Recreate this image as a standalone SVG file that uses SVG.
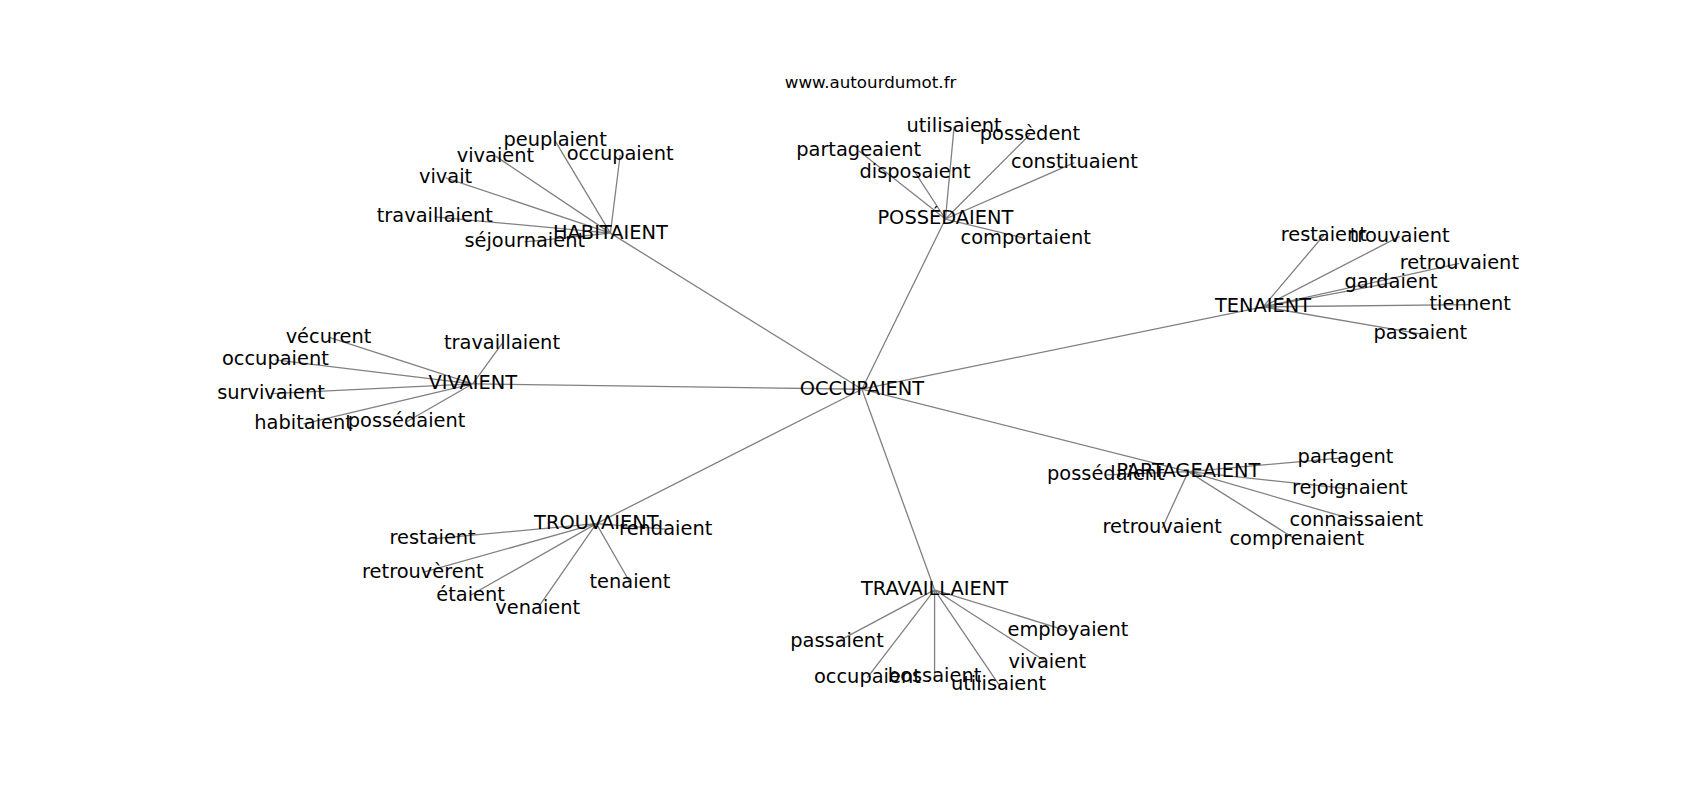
<svg xmlns="http://www.w3.org/2000/svg" width="1700" height="800" viewBox="0 0 1700 800">
<style>
.e{stroke:#808080;stroke-width:1.2;fill:none}
text{font-family:"DejaVu Sans",sans-serif;font-size:17.9px;fill:#000;text-anchor:middle}
.t{font-size:15.4px}
</style>
<rect width="1700" height="800" fill="#fff"/>
<g transform="scale(1.0842)">
<text class="t" x="803" y="81">www.autourdumot.fr</text>
<g id="edges">
<path class="e" d="M795 359L563 215M795 359L872 202M795 359L1165 283M795 359L436 354M795 359L1096 435M795 359L550 483M795 359L862 544"/>
<path class="e" d="M563 215L512 130M563 215L457 144M563 215L572 143M563 215L411 164M563 215L401 200M563 215L484 223"/>
<path class="e" d="M872 202L880 117M872 202L950 124M872 202L792 139M872 202L844 159M872 202L991 150M872 202L946 220"/>
<path class="e" d="M1165 283L1221 217M1165 283L1291 218M1165 283L1346 243M1165 283L1283 261M1165 283L1356 281M1165 283L1310 308"/>
<path class="e" d="M436 354L303 311M436 354L254 332M436 354L250 363M436 354L280 391M436 354L375 389M436 354L463 317"/>
<path class="e" d="M1096 435L1241 422M1096 435L1020 438M1096 435L1245 451M1096 435L1251 480M1096 435L1196 498M1096 435L1072 487"/>
<path class="e" d="M550 483L399 497M550 483L390 528M550 483L434 549M550 483L496 561M550 483L581 537M550 483L614 488"/>
<path class="e" d="M862 544L772 592M862 544L985 582M862 544L800 625M862 544L862 624M862 544L921 631M862 544L966 611"/>
</g>
<g id="n-occupaient"><text x="795" y="364">OCCUPAIENT</text></g>
<g id="n-habitaient"><text x="563" y="220">HABITAIENT</text></g>
<g id="n-habitaient-peuplaient"><text x="512" y="135">peuplaient</text></g>
<g id="n-habitaient-vivaient"><text x="457" y="149">vivaient</text></g>
<g id="n-habitaient-occupaient"><text x="572" y="148">occupaient</text></g>
<g id="n-habitaient-vivait"><text x="411" y="169">vivait</text></g>
<g id="n-habitaient-travaillaient"><text x="401" y="205">travaillaient</text></g>
<g id="n-habitaient-sejournaient"><text x="484" y="228">séjournaient</text></g>
<g id="n-possedaient"><text x="872" y="207">POSSÉDAIENT</text></g>
<g id="n-possedaient-utilisaient"><text x="880" y="122">utilisaient</text></g>
<g id="n-possedaient-possedent"><text x="950" y="129">possèdent</text></g>
<g id="n-possedaient-partageaient"><text x="792" y="144">partageaient</text></g>
<g id="n-possedaient-disposaient"><text x="844" y="164">disposaient</text></g>
<g id="n-possedaient-constituaient"><text x="991" y="155">constituaient</text></g>
<g id="n-possedaient-comportaient"><text x="946" y="225">comportaient</text></g>
<g id="n-tenaient"><text x="1165" y="288">TENAIENT</text></g>
<g id="n-tenaient-restaient"><text x="1221" y="222">restaient</text></g>
<g id="n-tenaient-trouvaient"><text x="1291" y="223">trouvaient</text></g>
<g id="n-tenaient-retrouvaient"><text x="1346" y="248">retrouvaient</text></g>
<g id="n-tenaient-gardaient"><text x="1283" y="266">gardaient</text></g>
<g id="n-tenaient-tiennent"><text x="1356" y="286">tiennent</text></g>
<g id="n-tenaient-passaient"><text x="1310" y="313">passaient</text></g>
<g id="n-vivaient"><text x="436" y="359">VIVAIENT</text></g>
<g id="n-vivaient-vecurent"><text x="303" y="316">vécurent</text></g>
<g id="n-vivaient-occupaient"><text x="254" y="337">occupaient</text></g>
<g id="n-vivaient-survivaient"><text x="250" y="368">survivaient</text></g>
<g id="n-vivaient-habitaient"><text x="280" y="396">habitaient</text></g>
<g id="n-vivaient-possedaient"><text x="375" y="394">possédaient</text></g>
<g id="n-vivaient-travaillaient"><text x="463" y="322">travaillaient</text></g>
<g id="n-partageaient"><text x="1096" y="440">PARTAGEAIENT</text></g>
<g id="n-partageaient-partagent"><text x="1241" y="427">partagent</text></g>
<g id="n-partageaient-possedaient"><text x="1020" y="443">possédaient</text></g>
<g id="n-partageaient-rejoignaient"><text x="1245" y="456">rejoignaient</text></g>
<g id="n-partageaient-connaissaient"><text x="1251" y="485">connaissaient</text></g>
<g id="n-partageaient-comprenaient"><text x="1196" y="503">comprenaient</text></g>
<g id="n-partageaient-retrouvaient"><text x="1072" y="492">retrouvaient</text></g>
<g id="n-trouvaient"><text x="550" y="488">TROUVAIENT</text></g>
<g id="n-trouvaient-restaient"><text x="399" y="502">restaient</text></g>
<g id="n-trouvaient-retrouverent"><text x="390" y="533">retrouvèrent</text></g>
<g id="n-trouvaient-etaient"><text x="434" y="554">étaient</text></g>
<g id="n-trouvaient-venaient"><text x="496" y="566">venaient</text></g>
<g id="n-trouvaient-tenaient"><text x="581" y="542">tenaient</text></g>
<g id="n-trouvaient-rendaient"><text x="614" y="493">rendaient</text></g>
<g id="n-travaillaient"><text x="862" y="549">TRAVAILLAIENT</text></g>
<g id="n-travaillaient-passaient"><text x="772" y="597">passaient</text></g>
<g id="n-travaillaient-employaient"><text x="985" y="587">employaient</text></g>
<g id="n-travaillaient-occupaient"><text x="800" y="630">occupaient</text></g>
<g id="n-travaillaient-bossaient"><text x="862" y="629">bossaient</text></g>
<g id="n-travaillaient-utilisaient"><text x="921" y="636">utilisaient</text></g>
<g id="n-travaillaient-vivaient"><text x="966" y="616">vivaient</text></g>
</g>
</svg>
